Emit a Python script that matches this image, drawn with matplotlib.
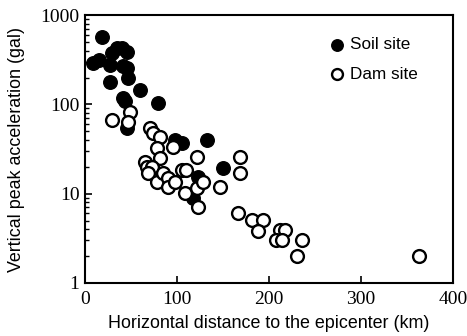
import numpy as np
import matplotlib
matplotlib.use('Agg')
import matplotlib.pyplot as plt
from matplotlib.ticker import LogLocator, NullFormatter, FixedLocator

# soil site points (distance km, vertical PGA gal)
soil_dist = [18, 15, 9, 27, 29, 35, 40, 46, 41, 46, 47, 27, 60, 41, 43, 79,
             46, 98, 105, 133, 150, 123, 117]
soil_pga = [569, 314, 290, 276, 380, 428, 430, 386, 270, 256, 197, 179, 145, 118, 108, 104,
            54, 40, 37, 40, 19.4, 15.4, 8.9]

# dam site points
dam_dist = [29, 49, 47, 71, 74, 82, 78, 96, 122, 168,
            81, 168, 65, 67, 73, 68, 78, 85, 90, 90, 98, 105, 110,
            109, 122, 128, 123, 147, 166, 181, 193, 188, 212, 217,
            208, 214, 236, 230, 363]
dam_pga = [67, 82, 63, 54, 48, 43, 32.5, 33, 26, 26,
           25, 17, 22.6, 20, 20, 17, 13.5, 17, 15, 11.9, 13.5, 18.5, 18.5,
           10.2, 11.6, 13.5, 7.1, 11.9, 6.1, 5.1, 5.1, 3.8, 3.9, 3.9,
           3.0, 3.0, 3.0, 2.0, 2.0]

x_ticks = [0, 100, 200, 300, 400]
y_ticks = [1, 10, 100, 1000]
y_tick_labels = ['1', '10', '100', '1000']

fig = plt.figure(figsize=(4.67, 3.36), dpi=100)
ax = fig.add_axes([0.182, 0.158, 0.788, 0.797])

ax.scatter(soil_dist, soil_pga, s=95, c='black', edgecolors='black', linewidths=1.0,
           label='Soil site', zorder=3)
ax.scatter(dam_dist, dam_pga, s=85, facecolors='white', edgecolors='black', linewidths=1.7,
           label='Dam site', zorder=3)

ax.set_yscale('log')
ax.set_xlim(0, 400)
ax.set_ylim(1, 1000)

serif = ['Liberation Serif', 'DejaVu Serif']
ax.set_xticks(x_ticks)
ax.set_xticklabels([str(t) for t in x_ticks], fontfamily=serif, fontsize=14)
ax.yaxis.set_major_locator(FixedLocator(y_ticks))
ax.set_yticklabels(y_tick_labels, fontfamily=serif, fontsize=14)
ax.yaxis.set_minor_locator(LogLocator(base=10, subs=np.arange(2, 10)))
ax.yaxis.set_minor_formatter(NullFormatter())

ax.tick_params(axis='both', which='major', direction='in', length=5, width=1.2, pad=4)
ax.tick_params(axis='y', which='minor', direction='in', length=3, width=1.0)
ax.tick_params(axis='x', which='major', pad=6)
for sp in ax.spines.values():
    sp.set_linewidth(1.5)

sans = ['Liberation Sans', 'DejaVu Sans']
ax.set_xlabel('Horizontal distance to the epicenter (km)', fontfamily=sans, fontsize=12.9, labelpad=5)
ax.set_ylabel('Vertical peak acceleration (gal)', fontfamily=sans, fontsize=12.9, labelpad=11)

leg = ax.legend(loc='upper left', bbox_to_anchor=(0.615, 0.975), frameon=False,
                prop={'family': sans, 'size': 12.3}, handletextpad=0.15,
                labelspacing=0.85, markerscale=0.85, handlelength=1.2)

fig.savefig('out.png', dpi=100)
